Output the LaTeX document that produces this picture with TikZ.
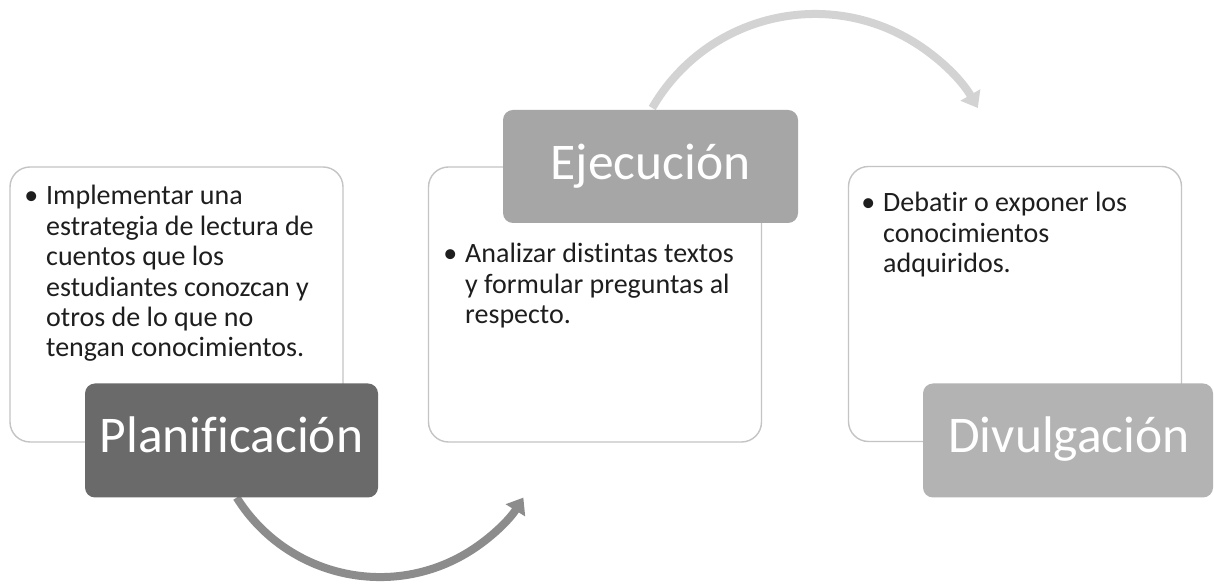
\documentclass[tikz,border=0pt]{standalone}
\usepackage{fontspec}
\setmainfont{Carlito}[Ligatures=NoCommon]
\usetikzlibrary{arrows.meta}
\definecolor{bordergray}{HTML}{C4C4C4}
\definecolor{planfill}{HTML}{6A6A6A}
\definecolor{ejefill}{HTML}{A6A6A6}
\definecolor{divfill}{HTML}{B3B3B3}
\definecolor{arrowdark}{HTML}{8C8C8C}
\definecolor{arrowlight}{HTML}{D3D3D3}
\definecolor{bodytext}{HTML}{1E1E1E}
\tikzset{
  bodybox/.style={draw=bordergray, line width=1.4pt, fill=white, rounded corners=20pt, inner sep=0pt, minimum width=333pt, minimum height=275pt},
  titlebox/.style={draw=none, rounded corners=10pt, inner sep=0pt, minimum height=114pt},
  titletext/.style={anchor=base, inner sep=0pt, text=white, font=\fontsize{51.5}{55}\selectfont},
  bodytextnode/.style={anchor=base west, inner sep=0pt, text=bodytext, font=\fontsize{28}{30.4}\selectfont},
  cyclearrow/.style={line width=8pt, -{Triangle[width=22pt,length=15pt]}}
}
\newcommand{\bulletitem}{\leavevmode\llap{\textbullet\hspace{8pt}}}
\begin{document}
\begin{tikzpicture}[x=1pt,y=1pt]
\useasboundingbox (0,0) rectangle (1214,588);
\fill[white] (0,0) rectangle (1214,588);
% arrows
\coordinate (arrAstart) at (236.7,90.4);
\coordinate (arrBstart) at (652.2,480.0);
\draw[cyclearrow, draw=arrowdark] (arrAstart) arc[start angle=212, end angle=328, radius=169];
\draw[cyclearrow, draw=arrowlight] (arrBstart) arc[start angle=150, end angle=30, radius=188];
% body boxes
\node[bodybox] (bodyA) at (176.5,283.5) {};
\node[bodybox] (bodyB) at (595,283.5) {};
\node[bodybox] (bodyC) at (1015,284) {};
% body texts
\node[bodytextnode] (textA) at (46,383) {\parbox[t]{300pt}{\bulletitem Implementar una\\
estrategia de lectura de\\
cuentos que los\\
estudiantes conozcan y\\
otros de lo que no\\
tengan conocimientos.}};
\node[bodytextnode] (textB) at (465,325) {\parbox[t]{300pt}{\bulletitem Analizar distintas textos\\
y formular preguntas al\\
respecto.}};
\node[bodytextnode] (textC) at (883,376) {\parbox[t]{300pt}{\bulletitem Debatir o exponer los\\
conocimientos\\
adquiridos.}};
% title boxes
\node[titlebox, fill=planfill, minimum width=293pt] (planbox) at (231.5,147.5) {};
\node[titlebox, fill=ejefill, minimum width=295pt, minimum height=113pt] (ejebox) at (650.5,421.5) {};
\node[titlebox, fill=divfill, minimum width=290pt] (divbox) at (1068,147.5) {};
\node[titletext] (plantext) at (231.5,135) {Planificación};
\node[titletext] (ejetext) at (650.5,408) {Ejecución};
\node[titletext] (divtext) at (1069,135) {Divulgación};
\end{tikzpicture}
\end{document}
